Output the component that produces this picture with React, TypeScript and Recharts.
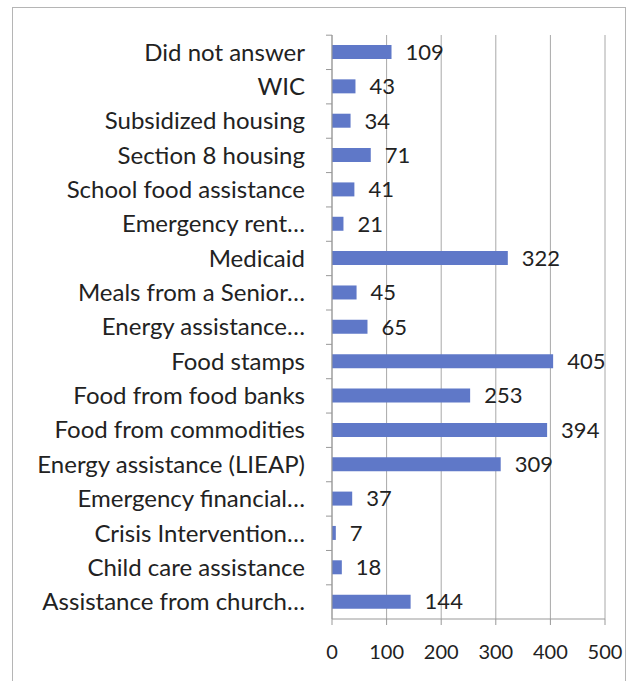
import React from 'react';
import { BarChart, Bar, XAxis, YAxis, CartesianGrid, LabelList } from 'recharts';

// Categories top to bottom, as in the picture
const categories = [
    'Did not answer',
    'WIC',
    'Subsidized housing',
    'Section 8 housing',
    'School food assistance',
    'Emergency rent…',
    'Medicaid',
    'Meals from a Senior…',
    'Energy assistance…',
    'Food stamps',
    'Food from food banks',
    'Food from commodities',
    'Energy assistance (LIEAP)',
    'Emergency financial…',
    'Crisis Intervention…',
    'Child care assistance',
    'Assistance from church…',
];
const counts = [109, 43, 34, 71, 41, 21, 322, 45, 65, 405, 253, 394, 309, 37, 7, 18, 144];
const xTicks = [0, 100, 200, 300, 400, 500];

const BAR_COLOR = '#5f78c8';
const TEXT_COLOR = '#222';
const FONT = 'Lato, sans-serif';

const chartData = categories.map((name, i) => ({ name, value: counts[i] }));

// y tick: label on the left plus Excel-style marks at the category boundaries
const CategoryTick = (props: any) => {
    const { x, y, payload } = props;
    return (
        <g>
            <line x1={x - 6} x2={x} y1={y - 17} y2={y - 17} stroke="#999" />
            <text x={x - 27} y={y} dy="0.35em" textAnchor="end" fill={TEXT_COLOR} fontSize={24} fontFamily={FONT}>
                {payload.value}
            </text>
        </g>
    );
};

export default function App() {
    return (
        <div style={{ position: 'absolute', left: 0, top: 0, width: 631, height: 681, background: '#fff' }}>
            <div style={{ position: 'absolute', left: 12, top: 7, width: 612, height: 690, border: '1px solid #b5b5b5' }} />
            <BarChart
                width={631}
                height={681}
                data={chartData}
                layout="vertical"
                margin={{ top: 35, right: 26, left: 0, bottom: 12 }}
                barSize={14}
            >
                <CartesianGrid horizontal={false} stroke="#a8a8a8" />
                <XAxis
                    type="number"
                    domain={[0, 500]}
                    ticks={xTicks}
                    height={50}
                    stroke="#999"
                    tickSize={6}
                    tickMargin={20}
                    tick={{ fill: TEXT_COLOR, fontSize: 20, fontFamily: FONT }}
                />
                <YAxis
                    type="category"
                    dataKey="name"
                    width={332}
                    stroke="#999"
                    tickLine={false}
                    tickSize={0}
                    tickMargin={0}
                    interval={0}
                    tick={<CategoryTick />}
                />
                <Bar dataKey="value" fill={BAR_COLOR} isAnimationActive={false}>
                    <LabelList
                        dataKey="value"
                        position="right"
                        offset={14}
                        fill={TEXT_COLOR}
                        fontSize={22}
                        fontFamily={FONT}
                    />
                </Bar>
            </BarChart>
        </div>
    );
}
